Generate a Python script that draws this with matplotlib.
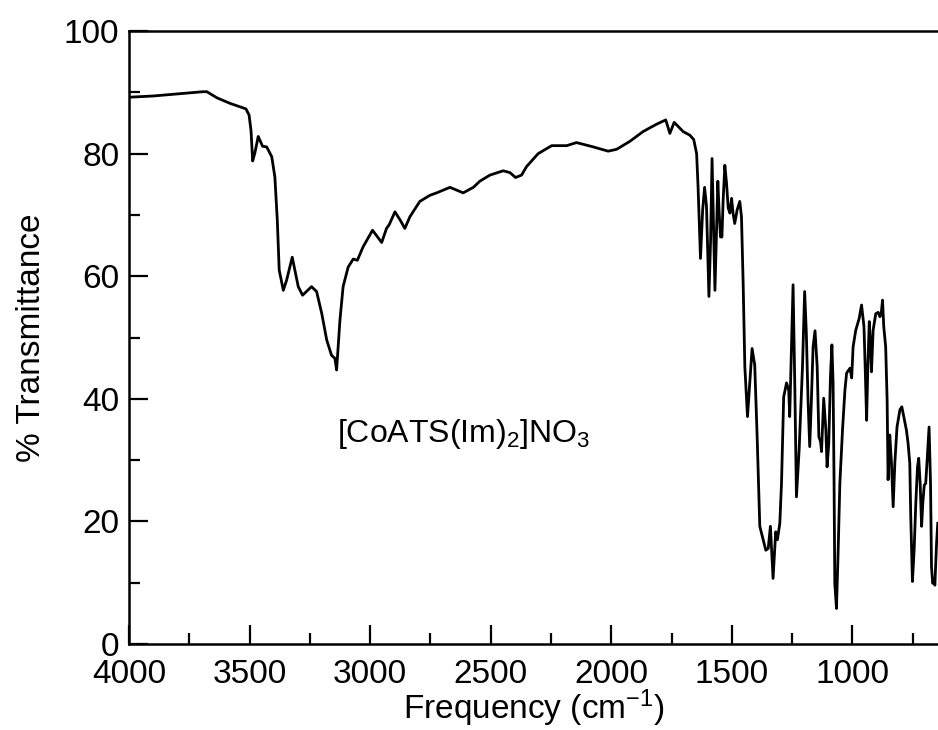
import matplotlib
matplotlib.use('Agg')
import matplotlib.pyplot as plt
from matplotlib.ticker import MultipleLocator

plt.rcParams['font.family'] = ['Liberation Sans', 'DejaVu Sans']
plt.rcParams['mathtext.fontset'] = 'custom'
plt.rcParams['mathtext.rm'] = 'Liberation Sans'
plt.rcParams['mathtext.it'] = 'Liberation Sans'

# spectrum: wavenumber (cm-1) and % transmittance
wavenumber = [4000, 3900, 3693, 3677, 3635, 3581, 3515, 3502, 3494, 3487,
              3478, 3464, 3446, 3429, 3408, 3395, 3385, 3377, 3360, 3346,
              3323, 3298, 3280, 3243, 3222, 3201, 3180, 3160, 3146, 3139,
              3125, 3112, 3091, 3070, 3053, 3029, 2990, 2952, 2932, 2921,
              2897, 2876, 2856, 2835, 2794, 2752, 2724, 2669, 2614, 2572,
              2545, 2503, 2448, 2420, 2397, 2372, 2351, 2303, 2247, 2185,
              2144, 2075, 2013, 1978, 1923, 1868, 1812, 1774, 1757, 1739,
              1702, 1674, 1658, 1646, 1640, 1630, 1621, 1613, 1605, 1595,
              1588, 1582, 1575, 1570, 1563, 1558, 1553, 1547, 1541, 1536,
              1529, 1522, 1515, 1508, 1501, 1495, 1488, 1478, 1467, 1460,
              1453, 1446, 1435, 1416, 1405, 1395, 1384, 1373, 1359, 1349,
              1340, 1329, 1318, 1311, 1301, 1294, 1285, 1273, 1264, 1260,
              1253, 1246, 1239, 1232, 1221, 1207, 1198, 1191, 1184, 1177,
              1170, 1163, 1155, 1146, 1139, 1132, 1128, 1119, 1110, 1105,
              1098, 1091, 1085, 1080, 1076, 1073, 1066, 1059, 1052, 1041,
              1031, 1024, 1010, 1003, 997, 986, 972, 962, 952, 947,
              941, 936, 930, 924, 921, 914, 903, 893, 886, 881,
              875, 870, 862, 856, 852, 845, 838, 831, 824, 815,
              803, 795, 787, 776, 769, 762, 758, 751, 744, 737,
              730, 725, 719, 713, 708, 702, 696, 690, 682, 676,
              672, 667, 662, 658, 651, 646]
transmittance = [89.2, 89.4, 90.1, 90.1, 89.1, 88.2, 87.3, 86.3, 83.8, 78.8,
                 80.1, 82.8, 81.2, 81.1, 79.5, 76.2, 69.2, 61.0, 57.7, 59.4,
                 63.1, 58.3, 56.9, 58.3, 57.5, 54.0, 49.6, 47.1, 46.6, 44.7,
                 52.9, 58.3, 61.5, 62.8, 62.6, 64.8, 67.5, 65.5, 67.8, 68.4,
                 70.5, 69.2, 67.8, 69.7, 72.2, 73.2, 73.6, 74.5, 73.6, 74.5,
                 75.5, 76.5, 77.2, 76.9, 76.1, 76.5, 77.9, 80.0, 81.3, 81.3,
                 81.8, 81.1, 80.4, 80.7, 82.0, 83.6, 84.8, 85.5, 83.3, 85.1,
                 83.6, 83.0, 82.3, 80.0, 74.6, 62.9, 70.8, 74.5, 71.4, 56.7,
                 65.9, 79.2, 67.0, 57.7, 68.1, 75.5, 70.8, 66.4, 66.4, 72.4,
                 78.1, 75.2, 71.1, 70.3, 72.7, 70.3, 68.6, 70.8, 72.2, 69.7,
                 58.8, 45.2, 37.1, 48.2, 45.5, 33.8, 19.2, 17.5, 15.3, 15.6,
                 19.2, 10.7, 18.3, 17.0, 19.7, 26.2, 40.3, 42.6, 41.4, 37.1,
                 48.0, 58.6, 42.5, 24.0, 31.6, 45.2, 57.5, 50.7, 39.8, 32.2,
                 39.8, 48.5, 51.1, 45.2, 33.8, 33.0, 31.4, 40.1, 34.9, 28.9,
                 32.7, 43.6, 48.8, 42.5, 26.2, 9.9, 5.8, 15.3, 26.2, 34.9,
                 41.4, 44.2, 45.0, 43.4, 48.5, 51.2, 53.1, 55.3, 51.8, 45.2,
                 36.5, 45.2, 52.6, 48.0, 44.4, 51.2, 53.9, 54.1, 53.4, 53.7,
                 56.1, 51.8, 48.5, 39.8, 26.8, 34.1, 29.5, 22.4, 29.5, 35.4,
                 38.2, 38.7, 37.1, 34.9, 32.7, 29.5, 20.8, 10.2, 15.3, 23.0,
                 28.9, 30.3, 26.2, 19.2, 23.0, 25.9, 26.2, 30.0, 35.4, 26.2,
                 12.6, 9.9, 10.2, 9.6, 16.4, 19.7]

x_ticks = [4000, 3500, 3000, 2500, 2000, 1500, 1000]
y_ticks = [0, 20, 40, 60, 80, 100]
compound = '[CoATS(Im)$_2$]NO$_3$'

fig = plt.figure(figsize=(9.38, 7.30), dpi=100)
ax = fig.add_axes([0.1375, 0.1178, 0.8625, 0.8397])
ax.plot(wavenumber, transmittance, color='black', lw=2.0)

ax.set_xlim(4000, 645)
ax.set_ylim(0, 100)
ax.set_xticks(x_ticks)
ax.set_yticks(y_ticks)
ax.xaxis.set_minor_locator(MultipleLocator(250))
ax.yaxis.set_minor_locator(MultipleLocator(10))
ax.tick_params(which='both', direction='in', top=False, right=False,
               labelsize=24, width=1.6)
ax.tick_params(axis='y', pad=7)
ax.tick_params(axis='x', pad=11)
ax.tick_params(which='major', length=14)
ax.tick_params(which='minor', length=8)
for side in ['left', 'bottom', 'top']:
    ax.spines[side].set_linewidth(1.8)
ax.spines['right'].set_visible(False)

ax.set_xlabel('Frequency (cm$^{-1}$)', fontsize=24, labelpad=-2)
ax.set_ylabel('% Transmittance', fontsize=24, labelpad=12)
ax.text(2611, 34.3, compound, fontsize=23, ha='center', va='center')

fig.savefig('out.png', dpi=100)
